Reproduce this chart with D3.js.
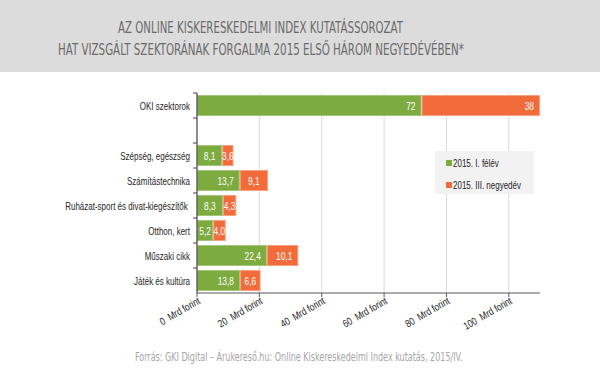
<!DOCTYPE html>
<html><head><meta charset="utf-8">
<script src="https://cdn.jsdelivr.net/npm/d3@7"></script>
<style>body{margin:0;background:#fff}svg{display:block}</style>
</head><body>
<svg id="c" width="600" height="383"></svg>
<script>
const categories = ["OKI szektorok", "", "Szépség, egészség", "Számítástechnika", "Ruházat-sport és divat-kiegészítők ", "Otthon, kert", "Műszaki cikk", "Játék és kultúra"];
const seriesNames = ["2015. I. félév", "2015. III. negyedév"];
const h1Values = [72, null, 8.1, 13.7, 8.3, 5.2, 22.4, 13.8];
const q3Values = [38, null, 3.6, 9.1, 4.3, 4.0, 10.1, 6.6];
const xTicks = [0, 20, 40, 60, 80, 100];
const titleLines = ["AZ ONLINE KISKERESKEDELMI INDEX KUTATÁSSOROZAT", "HAT VIZSGÁLT SZEKTORÁNAK FORGALMA 2015 ELSŐ HÁROM NEGYEDÉVÉBEN*"];
const sourceText = "Forrás: GKI Digital – Árukereső.hu: Online Kiskereskedelmi Index kutatás, 2015/IV.";

const colors = ["#7dab3f", "#f26c3b"];
const strokes = ["#a3c77a", "#f8a07f"];
const svg = d3.select("#c");
const fmt = v => (Number.isInteger(v) && v >= 20) ? String(v) : v.toFixed(1).replace(".", ",");

// fit a text horizontally into a given width by scaling in x
function fitText(sel, cx, by, width, anchor) {
  const w = sel.node().getComputedTextLength();
  const k = width / w;
  sel.attr("text-anchor", anchor).attr("transform", `translate(${cx},${by}) scale(${k},1)`);
}

// header
svg.append("rect").attr("x",0).attr("y",0).attr("width",600).attr("height",72).attr("fill","#dcdcdc");
const cond = "'DejaVu Sans Condensed','Liberation Sans',sans-serif";
const t1 = svg.append("text").style("font-family",cond).attr("font-size",16.5).attr("fill","#6b6b6b").text(titleLines[0]);
fitText(t1, 260.5, 33, 285, "middle");
const t2 = svg.append("text").style("font-family",cond).attr("font-size",16.5).attr("fill","#6b6b6b").text(titleLines[1]);
fitText(t2, 261, 55, 406, "middle");

const x = d3.scaleLinear().domain([0, 110]).range([197, 540]);
const y = d3.scaleBand().domain(categories.map((c,i)=>i)).range([93, 293]).paddingInner(0.16).paddingOuter(0.08);
const font = "'Liberation Sans', Arial, sans-serif";
const fs = 10, sx = 0.8;

// gridlines
svg.append("g").selectAll("line").data(xTicks.filter(t=>t>0)).join("line")
  .attr("x1",d=>x(d)).attr("x2",d=>x(d)).attr("y1",93).attr("y2",293)
  .attr("stroke","#d9d9d9").attr("stroke-width",1);

// bars
const rows = categories.map((c,i)=>({i, a:h1Values[i], b:q3Values[i]})).filter(d=>d.a!=null);
const g = svg.append("g");
rows.forEach(d=>{
  const segs = [{s:0,e:d.a,v:d.a,k:0},{s:d.a,e:d.a+d.b,v:d.b,k:1}];
  segs.forEach(s=>{
    g.append("rect").attr("x",x(s.s)+0.5).attr("y",y(d.i)+0.5)
      .attr("width",x(s.e)-x(s.s)-1).attr("height",y.bandwidth()-1)
      .attr("fill",colors[s.k]).attr("stroke",strokes[s.k]).attr("stroke-width",1);
    const w = x(s.e)-x(s.s);
    const ty = y(d.i)+y.bandwidth()/2+4;
    const big = w > 30;
    const tx = big ? x(s.e)-6 : (x(s.s)+x(s.e))/2;
    g.append("text").attr("transform",`translate(${tx},${ty}) scale(${sx},1)`)
      .attr("text-anchor", big ? "end" : "middle")
      .style("font-family",font).attr("font-size",10.5).attr("fill","#fff").text(fmt(s.v));
  });
});

// y axis
const ya = svg.append("g");
ya.append("line").attr("x1",197).attr("x2",197).attr("y1",93).attr("y2",293).attr("stroke","#404040").attr("stroke-width",1.2);
d3.range(categories.length).forEach(i=>{
  const yy = 93 + i*25;
  ya.append("line").attr("x1",193).attr("x2",197).attr("y1",yy).attr("y2",yy).attr("stroke","#404040");
});
ya.selectAll("text").data(categories).join("text")
  .attr("transform",(d,i)=>`translate(190,${y(i)+y.bandwidth()/2+4}) scale(${sx},1)`).attr("text-anchor","end")
  .style("font-family",font).attr("font-size",fs).attr("fill","#262626")
  .style("white-space","pre").text(d=>d);

// x axis
const xa = svg.append("g");
xa.append("line").attr("x1",197).attr("x2",540).attr("y1",293).attr("y2",293).attr("stroke","#595959").attr("stroke-width",1.2);
xTicks.forEach(t=>{
  xa.append("line").attr("x1",x(t)).attr("x2",x(t)).attr("y1",293).attr("y2",297).attr("stroke","#595959");
  xa.append("text").attr("transform",`translate(${x(t)+4},${303}) rotate(-30) scale(${sx},1)`)
    .attr("text-anchor","end").style("font-family",font).attr("font-size",fs+0.5).attr("fill","#262626")
    .style("white-space","pre").text(t+"  Mrd forint");
});

// legend
const lg = svg.append("g");
lg.append("rect").attr("x",435).attr("y",151).attr("width",99).attr("height",43).attr("fill","#f2f2f2");
seriesNames.forEach((n,i)=>{
  const ly = 163 + i*22;
  lg.append("rect").attr("x",446).attr("y",ly-3).attr("width",6).attr("height",6).attr("fill",colors[i]);
  lg.append("text").attr("transform",`translate(453,${ly+3.5}) scale(${sx},1)`)
    .style("font-family",font).attr("font-size",fs).attr("fill","#262626").text(n);
});

// source
const src = svg.append("text").style("font-family",cond).attr("font-size",11.5).attr("fill","#a6a6a6").text(sourceText);
fitText(src, 135, 361, 328, "start");
</script>
</body></html>
